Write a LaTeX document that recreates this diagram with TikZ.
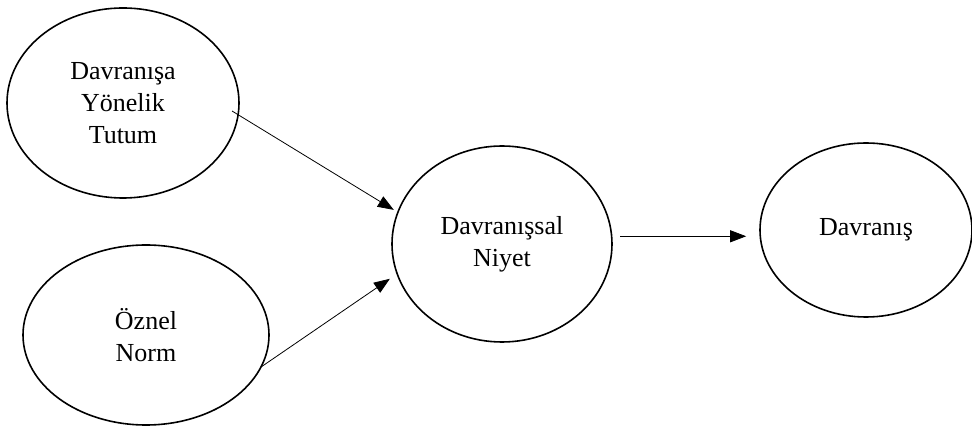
\documentclass[tikz,border=0pt]{standalone}
\usepackage{fontspec}
\setmainfont{Liberation Serif}
\usetikzlibrary{arrows.meta,shapes.geometric}

\begin{document}
\begin{tikzpicture}[x=0.75pt,y=-0.75pt]
    \tikzstyle{factor}=[ellipse, draw, line width=1.2pt, inner sep=0pt, align=center, font=\fontsize{19.5}{24}\selectfont]
    \tikzstyle{link}=[line width=0.6pt, -{Triangle[length=12pt,width=9pt]}]

    \useasboundingbox (0,0) rectangle (972,427);

    % factors
    \node[factor, minimum width=174pt, minimum height=142.5pt] (tutum) at (123,103) {Davranışa\\Yönelik\\Tutum};
    \node[factor, minimum width=184.5pt, minimum height=135pt] (norm) at (146,335) {Öznel\\Norm};
    \node[factor, minimum width=165pt, minimum height=147pt] (niyet) at (502,244) {Davranışsal\\Niyet};
    \node[factor, minimum width=159pt, minimum height=130.5pt] (davranis) at (866,230) {Davranış};

    % links
    \draw[link, shorten <=-6pt, shorten >=3pt] (tutum.-6.5) -- (niyet.163.6);
    \draw[link, shorten <=-1.5pt, shorten >=6pt] (norm.-15.7) -- (niyet.196.9);
    \draw[link, shorten <=6pt, shorten >=9.75pt] (niyet.4) -- (niyet.4 -| davranis.west);
\end{tikzpicture}
\end{document}
